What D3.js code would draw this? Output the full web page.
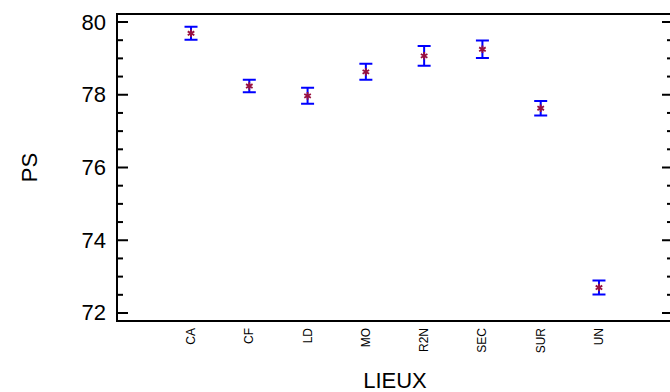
<!DOCTYPE html>
<html>
<head>
<meta charset="utf-8">
<script src="https://cdn.jsdelivr.net/npm/d3@7"></script>
<style>
  html, body { margin: 0; padding: 0; background: #fff; }
  svg { display: block; font-family: "Liberation Sans", Arial, sans-serif; }
</style>
</head>
<body>
<svg id="chart" width="670" height="392"></svg>
<script>
const categories = ["CA", "CF", "LD", "MO", "R2N", "SEC", "SUR", "UN"];
const means      = [79.69, 78.24, 77.97, 78.63, 79.07, 79.25, 77.63, 72.70];
const halfWidths = [0.18, 0.17, 0.22, 0.22, 0.27, 0.24, 0.20, 0.19];
const yTicks     = [72, 74, 76, 78, 80];
const xTitle = "LIEUX";
const yTitle = "PS";

(function () {
const svg = d3.select("#chart");
const pL = 117, pR = 673, pT = 14, pB = 321;

const x = d3.scalePoint().domain(categories).range([pL, pR]).padding(1.27);
const y = d3.scaleLinear().domain([71.78, 80.22]).range([pB, pT]);

// frame
svg.append("path")
  .attr("d", `M${pL},${pT}H${pR}V${pB}H${pL}Z`)
  .attr("fill", "none").attr("stroke", "#000").attr("stroke-width", 2);

const minor = d3.range(72, 80.01, 0.5);
// left ticks (inward)
svg.append("g").selectAll("line").data(minor).join("line")
  .attr("x1", pL).attr("x2", d => pL + (d % 2 === 0 ? 11 : 6))
  .attr("y1", d => y(d)).attr("y2", d => y(d))
  .attr("stroke", "#000").attr("stroke-width", 2);
// right ticks (inward)
svg.append("g").selectAll("line").data(minor).join("line")
  .attr("x1", pR).attr("x2", d => pR - (d % 2 === 0 ? 11 : 6))
  .attr("y1", d => y(d)).attr("y2", d => y(d))
  .attr("stroke", "#000").attr("stroke-width", 2);

// y tick labels
svg.append("g").selectAll("text").data(yTicks).join("text")
  .attr("x", pL - 11).attr("y", d => y(d))
  .attr("text-anchor", "end").attr("dominant-baseline", "central")
  .attr("font-size", 22).attr("fill", "#000")
  .text(d => d);

// x category labels
svg.append("g").selectAll("text").data(categories).join("text")
  .attr("transform", d => `translate(${x(d)},${pB + 7}) rotate(-90)`)
  .attr("text-anchor", "end").attr("dominant-baseline", "central")
  .attr("font-size", 12).attr("fill", "#000")
  .text(d => d);

// axis titles
svg.append("text")
  .attr("x", (pL + pR) / 2).attr("y", 388)
  .attr("text-anchor", "middle").attr("font-size", 22).attr("fill", "#000")
  .text(xTitle);
svg.append("text")
  .attr("transform", `translate(29,${(pT + pB) / 2}) rotate(-90)`)
  .attr("text-anchor", "middle").attr("dominant-baseline", "central")
  .attr("font-size", 22).attr("fill", "#000")
  .text(yTitle);

// error bars
const data = categories.map((c, i) => ({ c, m: means[i], h: halfWidths[i] }));
svg.append("g").attr("stroke", "#0000ff").attr("stroke-width", 2).attr("fill", "none")
  .selectAll("path").data(data).join("path")
  .attr("d", d => {
    const cx = x(d.c), y1 = y(d.m + d.h), y2 = y(d.m - d.h);
    return `M${cx - 6.5},${y1}H${cx + 6.5}M${cx},${y1}V${y2}M${cx - 6.5},${y2}H${cx + 6.5}`;
  });

// markers
const sym = d3.symbol().type(d3.symbolAsterisk).size(40);
svg.append("g").selectAll("path").data(data).join("path")
  .attr("transform", d => `translate(${x(d.c)},${y(d.m)})`)
  .attr("d", sym)
  .attr("fill", "none").attr("stroke", "#99103f").attr("stroke-width", 1.8);
})();
</script>
</body>
</html>
